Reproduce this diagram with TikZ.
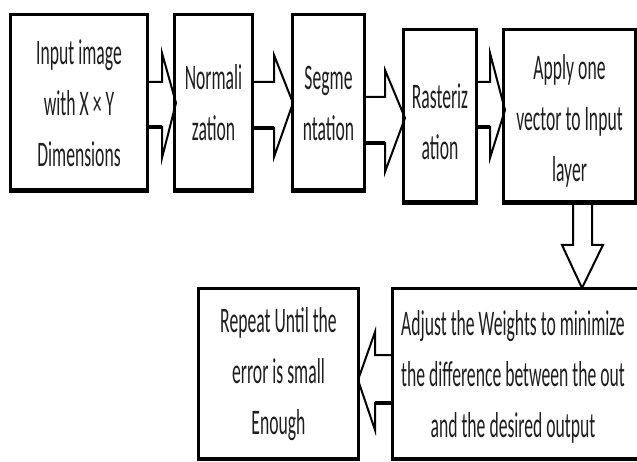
\documentclass[tikz,border=0pt]{standalone}
\usepackage{fontspec}
\newfontfamily\cf[FakeStretch=0.49]{Carlito}
\begin{document}
\begin{tikzpicture}[x=1pt,y=-1pt,
  txtstyle/.style={align=center, inner sep=0pt, font=\cf\fontsize{36}{51}\selectfont, text=black!88},
  box/.style={draw=black, line width=2pt, fill=white, txtstyle},
  barrow/.style={draw=black, line width=2pt, fill=white, line join=miter},
  thickedge/.style={line width=3.5pt, line cap=butt}]
\useasboundingbox (0,0) rectangle (637,462);
\clip (0,0) rectangle (637,462);
% boxes
\node[box, minimum width=136, minimum height=176] (b1) at (79,103) {Input image\\with X × Y\\Dimensions};
\node[box, minimum width=77, minimum height=176] (b2) at (213.5,103) {Normali\\zation};
\node[box, minimum width=71, minimum height=176] (b3) at (328.5,103) {Segme\\ntation};
\node[box, minimum width=72, minimum height=173] (b4) at (440,116.5) {};
\node[txtstyle] (t4) at (440,122) {Rasteriz\\ation};
\node[box, minimum width=131, minimum height=173] (b5) at (569.5,116.5) {};
\node[txtstyle] (t5) at (569.5,121) {Apply one\\vector to Input\\layer};
\node[box, minimum width=257, minimum height=170] (b6) at (521.5,374) {};
\node[txtstyle] (t6) at (513,377) {Adjust the Weights to minimize\\the difference between the out\\and the desired output};
\node[box, minimum width=159, minimum height=170] (b7) at (278.5,374) {Repeat Until the\\error is small\\Enough};
% thick bottom edges
\foreach \n in {b1,b2,b3,b4,b5,b6,b7}
  \draw[line width=4pt] ([yshift=1.5pt]\n.south west) -- ([yshift=1.5pt]\n.south east);
% block arrows
\draw[barrow] (b1.east |- 0,82) -- (162,82) -- (162,53) -- (176,103) -- (162,158) -- (162,127) -- (b1.east |- 0,127);
\draw[thickedge] (b1.east |- 0,127) -- (162,127);
\draw[barrow] (b2.east |- 0,82) -- (274,82) -- (274,55) -- (293,103) -- (274,157) -- (274,128) -- (b2.east |- 0,128);
\draw[thickedge] (b2.east |- 0,128) -- (274,128);
\draw[barrow] (b3.east |- 0,97) -- (385,97) -- (385,70) -- (405,118) -- (385,172) -- (385,143) -- (b3.east |- 0,143);
\draw[thickedge] (b3.east |- 0,143) -- (385,143);
\draw[barrow] (b4.east |- 0,82) -- (490,82) -- (490,53) -- (505,110) -- (490,158) -- (490,127) -- (b4.east |- 0,127);
\draw[thickedge] (b4.east |- 0,127) -- (490,127);
\draw[barrow] (573,0 |- b5.south) -- (573,245) -- (562,245) -- (582,288) -- (603,245) -- (592,245) -- (592,0 |- b5.south);
\draw[barrow] (b6.west |- 0,355) -- (375,355) -- (375,332) -- (358,380) -- (375,430) -- (375,403) -- (b6.west |- 0,403);
\draw[thickedge] (b6.west |- 0,403) -- (375,403);
% redraw box borders over arrow ends
\foreach \n in {b1,b2,b3,b4,b5,b6,b7}
  \draw[line width=2pt] (\n.south west) rectangle (\n.north east);
\end{tikzpicture}
\end{document}
